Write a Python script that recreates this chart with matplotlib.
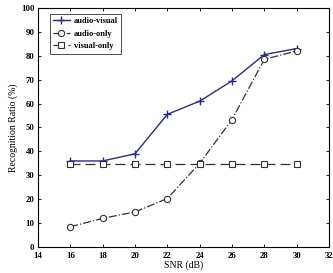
import matplotlib
matplotlib.use('Agg')
import matplotlib.pyplot as plt

# data
snr = [16, 18, 20, 22, 24, 26, 28, 30]
audio_visual = [36, 36, 39, 55.5, 61, 69.5, 80.5, 83]
audio_only = [8.5, 12, 14.7, 20.3, 35, 53.3, 78.5, 82]
visual_only = [34.8, 34.8, 34.8, 34.8, 34.8, 34.8, 34.8, 34.8]

plt.rcParams['font.family'] = ['Liberation Serif', 'DejaVu Serif']
plt.rcParams['font.weight'] = 'bold'

fig = plt.figure(figsize=(3.33, 2.73), dpi=100)
ax = fig.add_axes([0.114, 0.095, 0.874, 0.876])

ax.plot(snr, audio_visual, '-+', color='#2b2b86', lw=1.0, ms=6, mew=1.0, label='audio-visual')
ax.plot(snr, audio_only, '-.o', color='#333333', lw=0.9, ms=4.5, mfc='white', mew=0.8, label='audio-only')
ax.plot(snr, visual_only, '--s', color='#333333', lw=0.9, ms=4.5, mfc='white', mew=0.8,
        dashes=(8, 4), label='visual-only')

ax.set_xlim(14, 32)
ax.set_ylim(0, 100)
ax.set_xticks(range(14, 33, 2))
ax.set_yticks(range(0, 101, 10))
ax.tick_params(labelsize=6.3, direction='in', length=2.5, width=0.6, top=True, right=True)
ax.tick_params(axis='x', pad=3.5)
ax.tick_params(axis='y', pad=2.5)
for s in ax.spines.values():
    s.set_linewidth(0.8)
ax.set_xlabel('SNR (dB)', fontsize=7, labelpad=0)
ax.set_ylabel('Recognition Ratio (%)', fontsize=7, labelpad=2)

leg = ax.legend(loc='upper left', fontsize=6, frameon=True, fancybox=False,
                edgecolor='black', handlelength=2.0, handletextpad=0.5, borderpad=0.4,
                labelspacing=0.55, borderaxespad=0, bbox_to_anchor=(0.04, 0.975))
leg.get_frame().set_linewidth(0.6)

fig.savefig('out.png', dpi=100)
